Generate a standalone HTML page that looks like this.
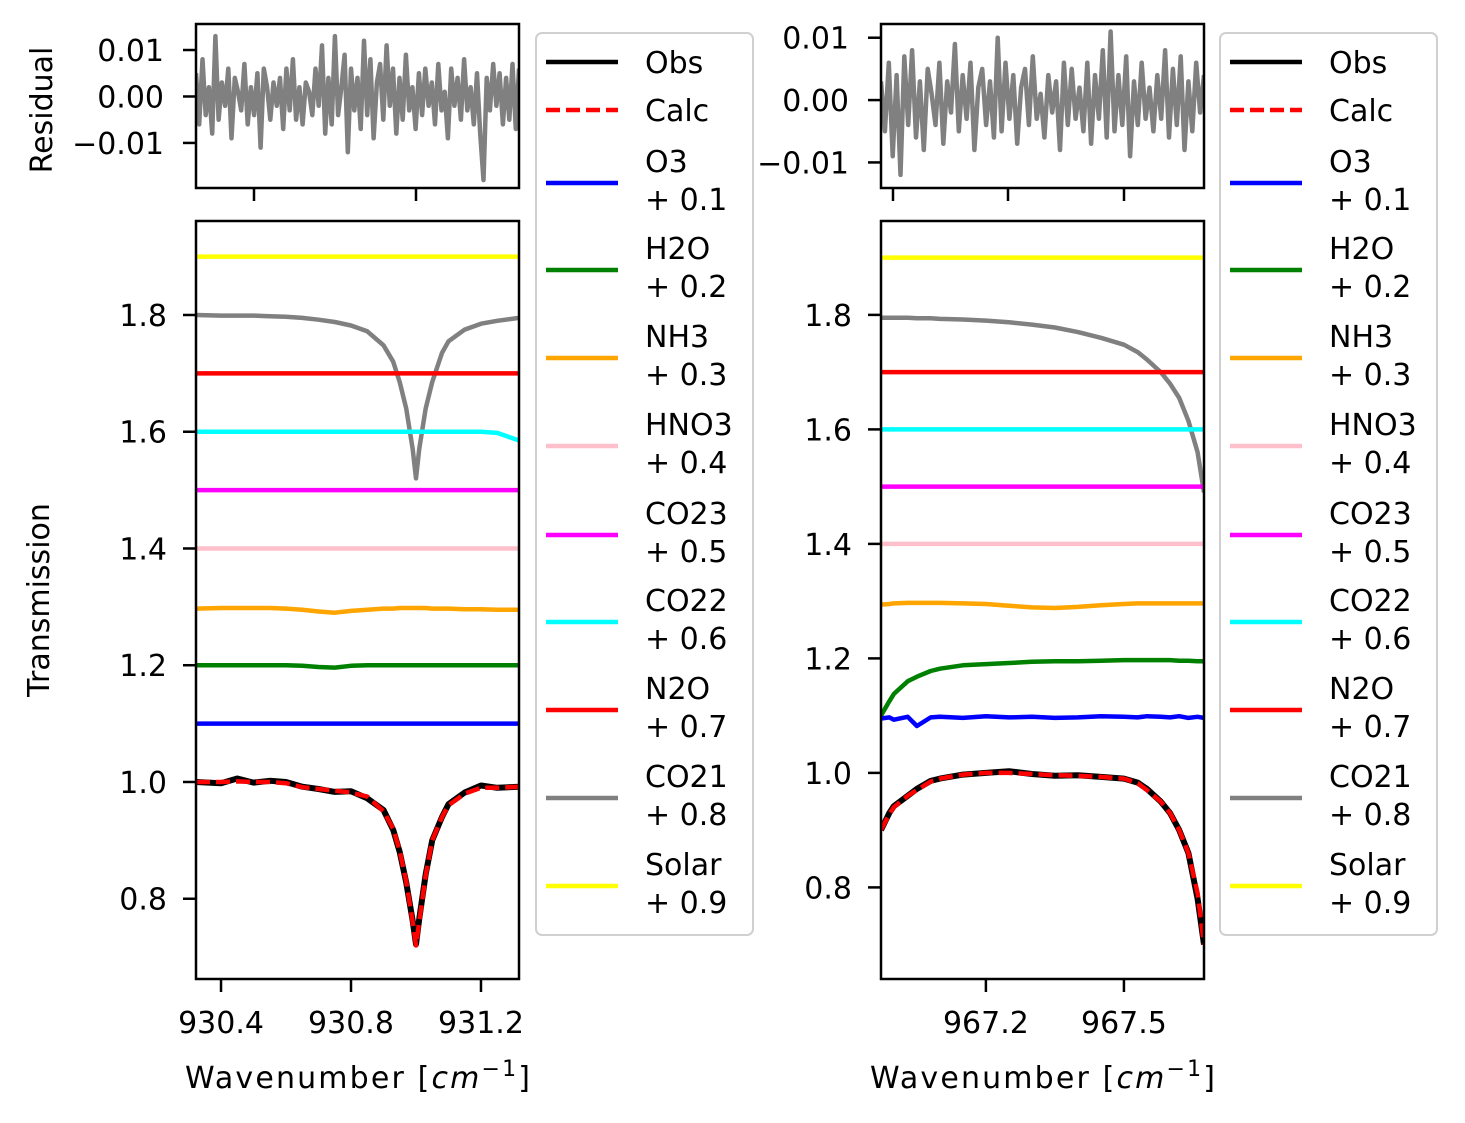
<!DOCTYPE html>
<html><head><meta charset="utf-8"><style>
body{margin:0;background:#fff}
svg{font-family:"DejaVu Sans","Liberation Sans",sans-serif}
</style></head><body>
<svg id="c" width="1465" height="1118" xmlns="http://www.w3.org/2000/svg"></svg>
<script>
// ---------- data ----------
const speciesNames=["Obs","Calc","O3","H2O","NH3","HNO3","CO23","CO22","N2O","CO21","Solar"];
const speciesOffsets=[0,0,0.1,0.2,0.3,0.4,0.5,0.6,0.7,0.8,0.9];
const speciesColors=["#000","#ff0000","#0000ff","#008000","#ffa500","#ffc0cb","#ff00ff","#00ffff","#ff0000","#808080","#ffff00"];
// left panel
const L_x=[930.323,930.4,930.45,930.5,930.55,930.6,930.65,930.7,930.75,930.8,930.85,930.9,930.93,930.95,930.97,930.99,931.0,931.01,931.03,931.05,931.08,931.1,931.15,931.2,931.25,931.317];
const L_obs=[1.0,0.998,1.006,0.999,1.002,1.0,0.992,0.988,0.983,0.984,0.972,0.952,0.918,0.88,0.828,0.762,0.722,0.765,0.842,0.9,0.94,0.962,0.982,0.994,0.99,0.992];
const L_calc=[1.0,1.0,1.001,1.0,1.0,0.998,0.991,0.988,0.985,0.982,0.975,0.95,0.92,0.882,0.83,0.76,0.72,0.76,0.84,0.9,0.94,0.96,0.98,0.99,0.99,0.992];
const L_O3=L_x.map(()=>1.1);
const L_H2O=[1.2,1.2,1.2,1.2,1.2,1.2,1.199,1.197,1.196,1.199,1.2,1.2,1.2,1.2,1.2,1.2,1.2,1.2,1.2,1.2,1.2,1.2,1.2,1.2,1.2,1.2];
const L_NH3=[1.297,1.298,1.298,1.298,1.298,1.297,1.295,1.292,1.29,1.293,1.295,1.297,1.297,1.298,1.298,1.298,1.298,1.298,1.298,1.297,1.297,1.297,1.296,1.296,1.295,1.295];
const L_HNO3=L_x.map(()=>1.4);
const L_CO23=L_x.map(()=>1.5);
const L_CO22=[1.6,1.6,1.6,1.6,1.6,1.6,1.6,1.6,1.6,1.6,1.6,1.6,1.6,1.6,1.6,1.6,1.6,1.6,1.6,1.6,1.6,1.6,1.6,1.6,1.598,1.585];
const L_N2O=L_x.map(()=>1.7);
const L_CO21=[1.8,1.799,1.799,1.799,1.798,1.797,1.795,1.792,1.788,1.782,1.772,1.748,1.72,1.685,1.64,1.57,1.52,1.57,1.64,1.685,1.735,1.755,1.775,1.785,1.79,1.795];
const L_Solar=L_x.map(()=>1.9);
// right panel
const R_x=[966.972,966.99,967.0,967.03,967.05,967.08,967.1,967.15,967.2,967.25,967.3,967.35,967.4,967.45,967.5,967.53,967.55,967.58,967.6,967.62,967.64,967.66,967.674];
const R_obs=[0.9,0.93,0.942,0.96,0.972,0.986,0.99,0.997,1.0,1.003,0.998,0.995,0.996,0.993,0.99,0.983,0.972,0.95,0.93,0.9,0.86,0.78,0.7];
const R_calc=[0.9,0.928,0.94,0.96,0.97,0.985,0.99,0.997,1.0,1.0,0.998,0.996,0.995,0.993,0.99,0.982,0.97,0.95,0.93,0.9,0.86,0.79,0.7];
const R_O3=[1.095,1.097,1.093,1.098,1.082,1.097,1.098,1.096,1.099,1.097,1.098,1.096,1.097,1.099,1.098,1.097,1.099,1.098,1.097,1.099,1.096,1.098,1.096];
const R_H2O=[1.1,1.125,1.138,1.16,1.168,1.178,1.182,1.188,1.19,1.192,1.194,1.195,1.195,1.196,1.197,1.197,1.197,1.197,1.197,1.196,1.196,1.195,1.195];
const R_NH3=[1.294,1.295,1.296,1.297,1.297,1.297,1.297,1.296,1.295,1.292,1.289,1.288,1.29,1.293,1.295,1.296,1.296,1.296,1.296,1.296,1.296,1.296,1.296];
const R_HNO3=R_x.map(()=>1.4);
const R_CO23=R_x.map(()=>1.5);
const R_CO22=R_x.map(()=>1.6);
const R_N2O=R_x.map(()=>1.7);
const R_CO21=[1.795,1.795,1.795,1.795,1.794,1.794,1.793,1.792,1.79,1.787,1.783,1.778,1.77,1.76,1.748,1.735,1.722,1.7,1.68,1.655,1.615,1.56,1.49];
const R_Solar=R_x.map(()=>1.9);
// residuals
const L_resid=[0.005,-0.006,0.008,-0.004,0.002,-0.008,0.013,-0.005,0.003,-0.002,0.006,-0.009,0.004,0.001,-0.003,0.007,-0.006,0.002,-0.004,0.005,-0.011,0.006,0.002,-0.005,0.003,-0.002,0.004,-0.007,0.006,-0.003,0.008,-0.005,0.002,-0.006,0.003,0.001,-0.004,0.006,-0.002,0.011,-0.008,0.004,-0.006,0.013,-0.004,0.002,0.009,-0.012,0.006,-0.003,0.004,-0.007,0.012,-0.004,0.008,-0.009,0.003,0.007,-0.005,0.011,-0.002,0.006,-0.008,0.004,-0.005,0.009,-0.003,0.002,-0.007,0.005,-0.004,0.006,-0.002,0.003,-0.006,0.007,-0.003,0.001,-0.009,0.006,-0.002,0.004,-0.005,0.008,-0.003,0.002,-0.006,0.005,-0.008,-0.018,0.004,-0.003,0.007,-0.002,0.005,-0.006,0.004,-0.005,0.007,-0.007,0.006];
const R_resid=[0.003,-0.005,0.006,-0.009,0.004,-0.012,0.007,-0.004,0.008,-0.006,0.003,-0.008,0.005,0.001,-0.004,0.006,-0.007,0.003,-0.002,0.009,-0.005,0.004,-0.003,0.006,-0.008,0.002,0.005,-0.004,0.003,-0.006,0.01,-0.005,0.006,-0.003,0.004,-0.007,0.002,0.005,-0.004,0.007,-0.003,0.001,-0.006,0.004,-0.002,0.003,-0.008,0.006,-0.004,0.005,-0.003,0.002,-0.005,0.006,-0.007,0.004,-0.003,0.008,-0.006,0.011,-0.005,0.004,-0.004,0.007,-0.009,0.003,-0.004,0.006,-0.003,0.002,-0.005,0.004,-0.003,0.008,-0.006,0.005,-0.004,0.007,-0.008,0.003,-0.005,0.006,-0.002,0.004];
const L_ticksX=[930.4,930.8,931.2];
const R_ticksX=[967.2,967.5];
const mainTicksY=[0.8,1.0,1.2,1.4,1.6,1.8];
const residTicksY=[0.01,0,-0.01];
const residTickLabels=["0.01","0.00","\u22120.01"];

// ---------- drawing ----------
const svg=document.getElementById('c');
const NS='http://www.w3.org/2000/svg';
const FS=30;
function mk(tag,attrs,parent){const e=document.createElementNS(NS,tag);for(const k in attrs)e.setAttribute(k,attrs[k]);(parent||svg).appendChild(e);return e;}
function lin(d0,d1,r0,r1){return v=>r0+(v-d0)*(r1-r0)/(d1-d0);}
function txt(x,y,s,anchor,size,name,extra){const t=mk('text',Object.assign({x:x,y:y,'text-anchor':anchor,'font-size':size,fill:'#000'},extra||{}));t.textContent=s;return t;}

function panel(p){
  const g=mk('g',{});
  
  
  // residual
  const rx=lin(0,p.resid.length-1,p.x0,p.x1), ry=lin(p.rd0,p.rd1,188,24);
  const cr=mk('clipPath',{id:'cr'+p.id},g);mk('rect',{x:p.x0,y:24,width:p.x1-p.x0,height:164},cr);
  const rpts=p.resid.map((v,i)=>rx(i).toFixed(1)+','+ry(v).toFixed(1)).join(' ');
  const rl=mk('polyline',{points:rpts,fill:'none',stroke:'#808080','stroke-width':4.5,'stroke-linejoin':'round','clip-path':'url(#cr'+p.id+')'},g);
  
  
  const rf=mk('rect',{x:p.x0,y:24,width:p.x1-p.x0,height:164,fill:'none',stroke:'#000','stroke-width':2.5},g);
  
  
  residTicksY.forEach((v,i)=>{const y=ry(v);mk('line',{x1:p.x0-13,x2:p.x0,y1:y,y2:y,stroke:'#000','stroke-width':2.5},g);txt(p.x0-32,y+11,residTickLabels[i],'end',FS,'residual-y-tick-label');});
  p.residTickPx.forEach(x=>mk('line',{x1:x,x2:x,y1:188,y2:201,stroke:'#000','stroke-width':2.5},g));
  // main
  const X=lin(p.d0,p.d1,p.x0,p.x1), Y=lin(p.yd0,p.yd1,979,221);
  const cp=mk('clipPath',{id:'cl'+p.id},g);mk('rect',{x:p.x0,y:221,width:p.x1-p.x0,height:758},cp);
  const plot=mk('g',{'clip-path':'url(#cl'+p.id+')'},g);
  const order=[10,9,8,7,6,5,4,3,2,0,1];
  order.forEach(i=>{
    const ys=p.series[i];
    const pts=p.xs.map((x,j)=>X(x).toFixed(1)+','+Y(ys[j]).toFixed(1)).join(' ');
    const attrs={points:pts,fill:'none',stroke:speciesColors[i],'stroke-width':i===0?6:4.5,'stroke-linejoin':'round'};
    if(i===1)attrs['stroke-dasharray']='14,6';
    const l=mk('polyline',attrs,plot);
    
    
  });
  const mf=mk('rect',{x:p.x0,y:221,width:p.x1-p.x0,height:758,fill:'none',stroke:'#000','stroke-width':2.5},g);
  
  
  mainTicksY.forEach(v=>{const y=Y(v);if(y<221||y>979)return;mk('line',{x1:p.x0-13,x2:p.x0,y1:y,y2:y,stroke:'#000','stroke-width':2.5},g);txt(p.x0-29,y+11,v.toFixed(1),'end',FS,'y-tick-label');});
  p.ticksX.forEach(v=>{const x=X(v);mk('line',{x1:x,x2:x,y1:979,y2:992,stroke:'#000','stroke-width':2.5},g);txt(x,1033,v.toFixed(1),'middle',FS,'x-tick-label');});
  const xl=txt((p.x0+p.x1)/2,1088,'','middle',FS,'x-axis-title',{textLength:345,lengthAdjust:'spacing'});
  xl.innerHTML='Wavenumber [<tspan font-style="italic">cm</tspan><tspan dy="-12" font-size="22">\u22121</tspan><tspan dy="12">]</tspan>';
  // legend
  const lx=p.legX;
  const box=mk('rect',{x:lx,y:33,width:217,height:902,rx:6,fill:'#fff',stroke:'#d0d0d0','stroke-width':2},g);
  
  
  const ly=[62,110,183,270,358,446,535,622,710,798,886];
  speciesNames.forEach((n,i)=>{
    const a={x1:lx+10,x2:lx+82,y1:ly[i],y2:ly[i],stroke:speciesColors[i],'stroke-width':4.5};
    if(i===1)a['stroke-dasharray']='14,6';
    const le=mk('line',a,g);
    
    
    if(i<2)txt(lx+109,ly[i]+11,n,'start',FS,'legend-label');
    else{txt(lx+109,ly[i]-11,n,'start',FS,'legend-label');txt(lx+109,ly[i]+27,'+ '+speciesOffsets[i].toFixed(1),'start',FS,'legend-label');}
  });
}
panel({id:'left',x0:196,x1:519,d0:930.323,d1:931.317,yd0:0.6625,yd1:1.961,rd0:-0.0197,rd1:0.0156,
  xs:L_x,series:[L_obs,L_calc,L_O3,L_H2O,L_NH3,L_HNO3,L_CO23,L_CO22,L_N2O,L_CO21,L_Solar],resid:L_resid,ticksX:L_ticksX,residTickPx:[254,416],legX:536});
panel({id:'right',x0:881,x1:1204,d0:966.972,d1:967.674,yd0:0.640,yd1:1.964,rd0:-0.0141,rd1:0.0122,
  xs:R_x,series:[R_obs,R_calc,R_O3,R_H2O,R_NH3,R_HNO3,R_CO23,R_CO22,R_N2O,R_CO21,R_Solar],resid:R_resid,ticksX:R_ticksX,residTickPx:[893,1008,1124],legX:1220});
txt(0,0,'Residual','middle',FS,'residual-y-axis-title',{transform:'translate(52,110) rotate(-90)'});
txt(0,0,'Transmission','middle',FS,'y-axis-title',{transform:'translate(49,600) rotate(-90)'});
</script>
</body></html>
